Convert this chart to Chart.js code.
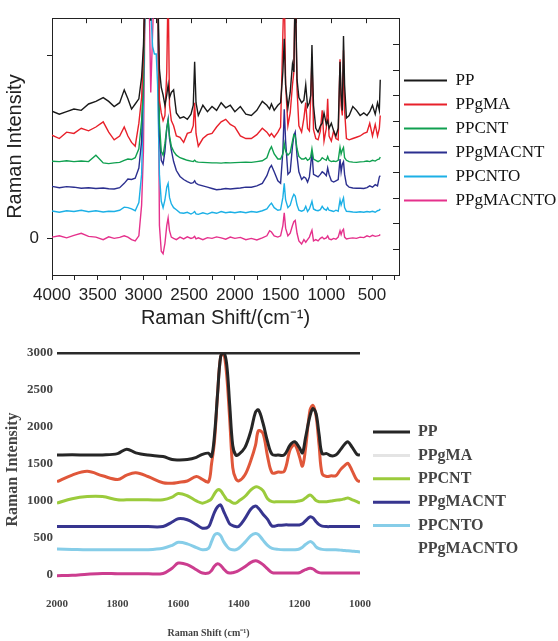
<!DOCTYPE html>
<html>
<head>
<meta charset="utf-8">
<script src="https://cdn.jsdelivr.net/npm/chart.js@4.4.1/dist/chart.umd.min.js"></script>
<style>
  html, body { margin: 0; padding: 0; background: #fff; }
  #wrapTop { position: absolute; left: 0; top: 0; width: 558px; height: 333px; }
  #wrapBottom { position: absolute; left: 0; top: 335px; width: 558px; height: 306px; filter: blur(0.5px); }
</style>
</head>
<body>
<div id="wrapTop"><canvas id="topChart"></canvas></div>
<div id="wrapBottom"><canvas id="bottomChart"></canvas></div>
<script>
// ---- upper panel: full spectra, stacked (arbitrary units, 1 unit = one offset step)
const namesTop = ['PP', 'PPgMA', 'PPCNT', 'PPgMACNT', 'PPCNTO', 'PPgMACNTO'];
const shiftTop = [4000, 3920, 3840, 3760, 3680, 3600, 3520, 3440, 3380, 3320,
  3260, 3210, 3170, 3130, 3090, 3050, 3020, 3000, 2980, 2960,
  2940, 2920, 2900, 2880, 2860, 2845, 2825, 2805, 2785, 2765,
  2745, 2730, 2715, 2695, 2670, 2640, 2600, 2560, 2520, 2480,
  2455, 2440, 2425, 2400, 2350, 2300, 2250, 2200, 2150, 2100,
  2050, 2000, 1940, 1880, 1820, 1760, 1700, 1650, 1620, 1600,
  1570, 1530, 1500, 1475, 1460, 1445, 1420, 1395, 1370, 1355,
  1340, 1320, 1300, 1270, 1245, 1225, 1205, 1185, 1170, 1157,
  1140, 1115, 1090, 1065, 1045, 1025, 1000, 985, 970, 945,
  920, 895, 870, 850, 838, 825, 812, 800, 780, 750,
  710, 670, 630, 590, 555, 525, 495, 465, 440, 420,
  410];
const ppTop = [4.97, 4.85, 4.95, 5.05, 5.0, 5.25, 5.35, 5.5, 5.35, 5.15,
  5.3, 5.8, 5.45, 5.05, 5.25, 5.45, 6.3, 7.5, 10, 10,
  10, 8.5, 10, 10, 10, 10, 6.6, 5.9, 5.6, 5.2,
  5.6, 6.0, 5.5, 5.7, 5.8, 4.9, 4.7, 4.75, 4.65, 4.85,
  5.2, 6.9, 5.3, 4.8, 5.2, 4.95, 5.15, 5.0, 5.3, 5.1,
  5.2, 4.95, 5.15, 4.85, 4.8, 5.0, 5.35, 5.2, 5.05, 5.25,
  5.0, 5.2, 5.3, 6.5, 7.8, 6.0, 5.1, 5.7, 6.8, 6.5,
  10, 6.2, 5.5, 5.3, 5.4, 6.0, 5.15, 5.3, 5.6, 7.55,
  5.2, 4.3, 4.15, 4.4, 4.5, 4.9, 4.45, 4.6, 4.3, 4.5,
  4.2, 4.0, 4.3, 6.9, 5.6, 5.0, 7.9, 6.0, 4.7, 4.8,
  5.15, 5.0, 4.8, 4.9, 4.8, 4.95, 5.2, 4.85, 5.3, 5.0,
  6.2];
const ppgmaTop = [4.03, 3.9, 4.15, 4.1, 4.3, 4.2, 4.35, 4.55, 4.15, 3.85,
  4.0, 4.35, 4.0, 3.75, 3.6, 4.5, 5.5, 7.2, 10, 10,
  10, 10, 10, 10, 10, 10, 5.4, 4.9, 4.6, 4.8,
  6.5, 10, 5.2, 4.6, 4.4, 4.0, 3.95, 3.75, 4.1, 4.15,
  4.4, 5.3, 4.1, 3.6, 3.9, 4.05, 4.1, 4.35, 4.55, 4.65,
  4.45, 4.35, 4.0, 3.9, 3.9, 4.05, 4.3, 4.15, 4.0, 4.1,
  3.95, 4.15, 4.35, 8.0, 10, 6.0, 4.4, 4.9, 6.0, 6.5,
  10, 5.8, 4.4, 4.15, 4.7, 5.3, 4.3, 4.2, 5.5, 7.1,
  4.25, 3.9, 3.85, 4.2, 5.0, 3.8, 4.3, 5.45, 4.0, 3.8,
  4.2, 3.9, 3.85, 7.0, 5.2, 4.8, 7.35, 5.0, 3.9, 3.85,
  3.9, 3.95, 4.0, 4.1, 4.15, 4.5, 4.0, 4.45, 4.0, 4.3,
  4.8];
const ppcntTop = [3.01, 3.0, 3.03, 3.0, 3.02, 3.0, 3.25, 2.95, 2.92, 2.95,
  2.97, 3.05, 3.1, 3.08, 3.15, 3.5, 4.6, 6.0, 10, 10,
  10, 10, 10, 10, 10, 10, 4.5, 3.4, 3.25, 3.7,
  4.3, 4.6, 4.0, 3.6, 3.4, 3.25, 3.15, 3.1, 3.05, 3.02,
  3.0, 3.05, 3.0, 2.98, 2.97, 2.96, 2.95, 2.95, 2.94, 2.96,
  2.95, 2.96, 2.97, 2.98, 2.97, 3.0, 3.03, 3.15, 3.45, 3.58,
  3.3, 3.1, 3.1, 3.3, 3.7, 3.4, 3.25, 3.35, 3.8, 4.05,
  4.0, 3.5, 3.2, 3.1, 3.1, 3.15, 3.05, 3.1, 3.2, 3.5,
  3.1, 3.05, 3.0, 3.05, 3.15, 3.1, 3.05, 3.2, 3.05, 3.0,
  3.02, 3.0, 3.05, 3.55, 3.3, 3.45, 3.55, 3.15, 3.05, 3.0,
  2.98, 2.97, 2.99, 3.0, 3.02, 3.0, 3.05, 3.02, 3.08, 3.1,
  3.18];
const ppgmacntTop = [2.03, 1.98, 2.02, 2.0, 1.96, 1.98, 1.95, 1.97, 1.94, 1.93,
  1.98, 2.15, 2.32, 2.3, 2.35, 2.75, 3.8, 6.5, 10, 10,
  10, 10, 10, 10, 10, 10, 4.0, 3.05, 2.9, 3.4,
  4.3, 4.65, 3.9, 3.45, 3.0, 2.65, 2.42, 2.3, 2.22, 2.15,
  2.18, 2.25, 2.15, 2.1, 2.05, 2.0, 1.95, 1.9, 1.92, 1.95,
  1.93, 1.95, 1.97, 2.0, 2.0, 2.05, 2.15, 2.45, 2.75, 2.85,
  2.6, 2.25, 2.15, 3.4, 5.04, 3.8, 2.5, 2.6, 3.6, 4.0,
  4.15, 3.2, 2.6, 2.3, 2.4, 2.35, 2.2, 2.4, 2.9, 3.37,
  2.5, 2.45, 2.4, 2.5, 2.6, 2.55, 2.45, 2.75, 2.5, 2.25,
  2.2, 2.25, 2.3, 3.1, 2.6, 2.9, 3.0, 2.5, 2.1, 2.0,
  1.97, 1.96, 1.96, 1.95, 1.98, 2.05, 2.0, 2.1, 2.05, 2.4,
  2.45];
const ppcntoTop = [1.07, 1.02, 1.08, 1.05, 1.1, 1.04, 1.08, 1.03, 1.06, 1.05,
  1.1, 1.22, 1.2, 1.15, 1.08, 1.4, 2.5, 5.5, 10, 10,
  10, 9, 7.5, 7.2, 7.2, 6.0, 2.5, 1.45, 1.2, 1.5,
  2.0, 2.15, 1.6, 1.35, 1.2, 1.12, 1.0, 0.98, 1.02, 0.95,
  1.0, 1.05, 0.96, 0.94, 1.0, 0.95, 1.02, 0.98, 1.05, 1.0,
  1.03, 1.0, 1.04, 1.0, 1.05, 1.02, 1.08, 1.15, 1.3, 1.38,
  1.2, 1.1, 1.12, 1.6, 2.15, 1.5, 1.2, 1.3, 1.6, 1.72,
  1.65, 1.3, 1.1, 1.06, 1.1, 1.25, 1.05, 1.15, 1.3, 1.45,
  1.15, 1.1, 1.08, 1.12, 1.25, 1.15, 1.1, 1.2, 1.1, 1.08,
  1.05, 1.1, 1.06, 1.5, 1.3, 1.45, 1.58, 1.2, 1.06, 1.05,
  1.03, 1.02, 1.04, 1.02, 1.05, 1.03, 1.06, 1.02, 1.08, 1.1,
  1.15];
const ppgmacntoTop = [0.05, 0.1, 0.02, 0.12, 0.2, 0.08, 0.05, -0.05, 0.06, 0.0,
  0.04, 0.1, 0.05, -0.05, -0.1, 0.1, 1.3, 3.4, 10, 10,
  10, 5.7, 8, 10, 10, 10, 0.5, -0.5, -0.6, -0.2,
  0.5, 0.8, 0.3, 0.05, 0.0, -0.05, 0.05, -0.02, 0.06, 0.0,
  0.03, 0.08, -0.02, 0.02, -0.05, 0.03, 0.0, 0.06, 0.02, -0.03,
  0.05, 0.0, 0.04, -0.05, 0.0, -0.06, 0.02, 0.1, 0.3, 0.25,
  0.1, 0.05, 0.1, 0.5, 1.0, 0.4, 0.1, 0.2, 0.5, 0.65,
  0.7, 0.2, -0.1, -0.22, -0.05, -0.15, -0.05, 0.05, 0.2, 0.32,
  -0.1, -0.05, -0.1, 0.0, 0.05, -0.02, 0.02, 0.1, -0.02, -0.05,
  0.0, -0.03, 0.05, 0.3, 0.15, 0.3, 0.36, 0.05, -0.02, 0.0,
  0.02, 0.0, 0.05, 0.03, 0.1, 0.06, 0.12, 0.08, 0.1, 0.12,
  0.15];
const xTicksTop = [4000, 3750, 3500, 3250, 3000, 2750, 2500, 2250, 2000, 1750, 1500, 1250, 1000, 750, 500, 250];
const topEdgeTicks = [3625, 3242, 2859, 2476, 2093, 1710, 1327, 944, 561];
const leftTicksTop = [0, 7.13];
const rightTicksTop = [-1, 0, 1, 2, 3, 4, 5, 6, 7, 8, 9];

// ---- lower panel: 2000-1000 cm-1 detail
const namesBottom = ['PP', 'PPgMA', 'PPCNT', 'PPgMACNT', 'PPCNTO', 'PPgMACNTO'];
const shiftBottom = [2000, 1950, 1900, 1850, 1800, 1770, 1740, 1700, 1650, 1620,
  1600, 1570, 1540, 1520, 1500, 1490, 1480, 1470, 1460, 1450,
  1440, 1430, 1420, 1410, 1400, 1380, 1360, 1345, 1335, 1320,
  1305, 1290, 1270, 1250, 1230, 1215, 1200, 1190, 1180, 1165,
  1155, 1145, 1135, 1125, 1110, 1095, 1080, 1065, 1050, 1040,
  1025, 1010, 1000];
const ppBottom = [1620, 1625, 1620, 1622, 1640, 1700, 1650, 1620, 1600, 1560,
  1555, 1560, 1590, 1630, 1645, 1600, 1900, 2450, 2950, 3010,
  2850, 2300, 1750, 1620, 1630, 1720, 1950, 2200, 2230, 2050,
  1800, 1630, 1620, 1622, 1760, 1800, 1720, 1650, 1850, 2150,
  2250, 2180, 1900, 1640, 1640, 1610, 1620, 1690, 1770, 1800,
  1720, 1630, 1620];
const ppgmaBottom = [1260, 1350, 1400, 1340, 1290, 1350, 1380, 1330, 1245, 1240,
  1250, 1270, 1330, 1290, 1260, 1500, 1820, 2450, 2950, 3000,
  2700, 2100, 1450, 1300, 1270, 1350, 1550, 1750, 1950, 1910,
  1600, 1380, 1390, 1400, 1700, 1760, 1600, 1470, 1700, 2230,
  2290, 2150, 1750, 1370, 1330, 1340, 1340, 1420, 1480, 1510,
  1400, 1280, 1260];
const ppcntBottom = [970, 1030, 1060, 1060, 1015, 1015, 1015, 1015, 1015, 1050,
  1100, 1070, 1000, 970, 1000, 1030, 1100, 1150, 1140, 1080,
  1020, 1000, 975, 970, 1000, 1060, 1150, 1190, 1185, 1140,
  1030, 990, 990, 990, 990, 990, 1000, 1010, 1040, 1080,
  1050, 1005, 990, 990, 990, 1000, 1010, 1015, 1030, 1040,
  1015, 990, 970];
const ppgmacntBottom = [653, 653, 653, 653, 653, 653, 653, 653, 655, 715,
  760, 745, 680, 632, 650, 740, 850, 920, 945, 860,
  770, 690, 665, 653, 655, 760, 890, 930, 900, 820,
  750, 660, 670, 676, 676, 676, 676, 690, 730, 785,
  770, 720, 680, 660, 653, 653, 653, 653, 653, 653,
  653, 653, 653];
const ppcntoBottom = [350, 345, 340, 340, 340, 340, 340, 340, 360, 400,
  440, 420, 370, 340, 360, 450, 540, 560, 530, 450,
  390, 350, 340, 340, 360, 440, 530, 560, 545, 470,
  400, 360, 345, 340, 340, 340, 350, 375, 410, 450,
  430, 380, 355, 345, 340, 340, 340, 335, 330, 325,
  320, 315, 310];
const ppgmacntoBottom = [-10, -5, 10, 20, 15, 15, 15, 15, 20, 90,
  160, 140, 70, 25, 25, 60, 120, 150, 130, 80,
  40, 25, 30, 40, 60, 110, 170, 190, 180, 140,
  80, 30, 25, 25, 25, 25, 30, 50, 70, 90,
  80, 50, 30, 25, 25, 25, 25, 25, 25, 25,
  25, 25, 25];
const yTicksBottom = [0, 500, 1000, 1500, 2000, 2500, 3000];
const xTicksBottom = [2000, 1800, 1600, 1400, 1200, 1000];

const coloursTop = ['#1a1a1a', '#e8202a', '#10a050', '#2b2f8f', '#1cb0e6', '#e5318c'];
const coloursBottom = ['#262626', '#e0573a', '#9bcb3c', '#37358f', '#86cde8', '#cc3d8f'];
const legendColoursBottom = ['#262626', '#e4e4e4', '#9bcb3c', '#37358f', '#86cde8', '#ffffff'];

const seriesTop = [ppTop, ppgmaTop, ppcntTop, ppgmacntTop, ppcntoTop, ppgmacntoTop];
const seriesBottom = [ppBottom, ppgmaBottom, ppcntBottom, ppgmacntBottom, ppcntoBottom, ppgmacntoBottom];

const pairs = (xs, ys) => xs.map((x, i) => ({ x: x, y: ys[i] }));
const fixedTicks = values => scale => { scale.ticks = values.map(v => ({ value: v })); };

// legend text as one-line arrays so the row height follows font.lineHeight
function legendItems(chart, colours) {
  const items = Chart.defaults.plugins.legend.labels.generateLabels(chart);
  return items.map((it, i) => {
    it.text = [it.text];
    if (colours) { it.fillStyle = colours[i]; it.strokeStyle = colours[i]; }
    it.lineWidth = 0;
    return it;
  });
}

// make the plot's right edge land where the legend should start
function placeLegend(chart, plotRight) {
  const pad = chart.options.layout.padding;
  const room = chart.width - plotRight - chart.legend.width;
  chart.options.layout.padding = { top: pad.top, left: pad.left, bottom: pad.bottom, right: Math.max(0, room) };
  chart.update();
}

const sans = 'Liberation Sans, Arial, sans-serif';
const serif = 'Liberation Serif, Times New Roman, serif';

const topChart = new Chart(document.getElementById('topChart'), {
  type: 'line',
  data: {
    datasets: namesTop.map((name, i) => ({
      label: name,
      data: pairs(shiftTop, seriesTop[i]),
      borderColor: coloursTop[i],
      backgroundColor: coloursTop[i],
      borderWidth: 1.4,
      pointRadius: 0,
      tension: 0
    }))
  },
  options: {
    responsive: true,
    maintainAspectRatio: false,
    animation: false,
    devicePixelRatio: 1,
    layout: { padding: { top: 14, right: 0, bottom: 0, left: 0 } },
    plugins: {
      tooltip: { enabled: false },
      legend: {
        position: 'right',
        align: 'start',
        maxWidth: 159,
        title: { display: true, text: ' ', font: { size: 10 }, padding: { top: 41, bottom: 0 } },
        labels: {
          boxWidth: 43,
          boxHeight: 2,
          padding: 5,
          color: '#111',
          font: { family: serif, size: 17, lineHeight: 19 / 17 },
          generateLabels: c => legendItems(c)
        }
      }
    },
    scales: {
      x: {
        type: 'linear', position: 'bottom', reverse: true, min: 205, max: 4000,
        afterBuildTicks: fixedTicks(xTicksTop),
        afterFit: s => { s.height = 58; },
        ticks: {
          autoSkip: false, maxRotation: 0, padding: 5, color: '#222',
          font: { family: sans, size: 17 },
          callback: v => (v % 500 === 0 && v >= 500) ? String(v) : ''
        },
        grid: { drawOnChartArea: false, tickLength: 5, color: '#222' },
        border: { color: '#222', width: 1 },
        title: { display: true, text: 'Raman Shift/(cm\u207B\u00B9)', color: '#222', font: { family: sans, size: 20 }, padding: { top: 0, bottom: 3 } }
      },
      x2: {
        type: 'linear', position: 'top', reverse: true, min: 205, max: 4000,
        afterBuildTicks: fixedTicks(topEdgeTicks),
        afterFit: s => { s.height = 0; },
        ticks: { display: false },
        grid: { drawOnChartArea: false, tickLength: -5, color: '#222' },
        border: { color: '#222', width: 1 }
      },
      y: {
        position: 'left', min: -1.43, max: 8.6,
        afterBuildTicks: fixedTicks(leftTicksTop),
        afterFit: s => { s.width = 52; },
        ticks: { padding: 8, color: '#222', font: { family: sans, size: 17 }, callback: v => v === 0 ? '0' : '' },
        grid: { drawOnChartArea: false, tickLength: 5, color: '#222' },
        border: { color: '#222', width: 1 },
        title: { display: true, text: 'Raman Intensity', color: '#222', font: { family: sans, size: 20 }, padding: { top: 3, bottom: 0 } }
      },
      y2: {
        position: 'right', min: -1.0, max: 9.03,
        afterBuildTicks: fixedTicks(rightTicksTop),
        afterFit: s => { s.width = 0; },
        ticks: { display: false },
        grid: { drawOnChartArea: false, tickLength: -6, color: '#222' },
        border: { color: '#222', width: 1 }
      }
    }
  }
});
placeLegend(topChart, 399);

const bottomChart = new Chart(document.getElementById('bottomChart'), {
  type: 'line',
  data: {
    datasets: namesBottom.map((name, i) => ({
      label: name,
      data: pairs(shiftBottom, seriesBottom[i]),
      borderColor: coloursBottom[i],
      backgroundColor: coloursBottom[i],
      borderWidth: 3,
      pointRadius: 0,
      tension: 0.35
    }))
  },
  options: {
    responsive: true,
    maintainAspectRatio: false,
    animation: false,
    devicePixelRatio: 1,
    layout: { padding: { top: 18, right: 0, bottom: 0, left: 0 } },
    plugins: {
      tooltip: { enabled: false },
      legend: {
        position: 'right',
        align: 'start',
        maxWidth: 198,
        title: { display: true, text: ' ', font: { size: 10 }, padding: { top: 46, bottom: 0 } },
        labels: {
          boxWidth: 37,
          boxHeight: 3,
          padding: 13,
          color: '#444',
          font: { family: serif, size: 16, weight: 'bold', lineHeight: 10.4 / 16 },
          generateLabels: c => legendItems(c, legendColoursBottom)
        }
      }
    },
    scales: {
      x: {
        type: 'linear', position: 'bottom', reverse: true, min: 1000, max: 2000,
        afterBuildTicks: fixedTicks(xTicksBottom),
        afterFit: s => { s.height = 55; },
        ticks: { autoSkip: false, maxRotation: 0, padding: 4, color: '#444', font: { family: serif, size: 11, weight: 'bold' }, callback: v => String(v) },
        grid: { display: false },
        border: { display: false },
        title: { display: true, text: 'Raman Shift (cm\u207B\u00B9)', color: '#444', font: { family: serif, size: 10, weight: 'bold' }, padding: { top: 0, bottom: 2 } }
      },
      y: {
        position: 'left', min: -150, max: 3000,
        afterBuildTicks: fixedTicks(yTicksBottom),
        afterFit: s => { s.width = 57; },
        ticks: { padding: 4, color: '#444', font: { family: serif, size: 13, weight: 'bold' }, callback: v => String(v) },
        grid: {
          drawTicks: false,
          lineWidth: 2.5,
          color: c => (c.tick && c.tick.value === 3000) ? '#2a2a2a' : 'rgba(0,0,0,0)'
        },
        border: { display: false },
        title: { display: true, text: 'Raman Intensity', color: '#444', font: { family: serif, size: 16, weight: 'bold' }, padding: { top: 3, bottom: 0 } }
      }
    }
  }
});
placeLegend(bottomChart, 360);
</script>
</body>
</html>
